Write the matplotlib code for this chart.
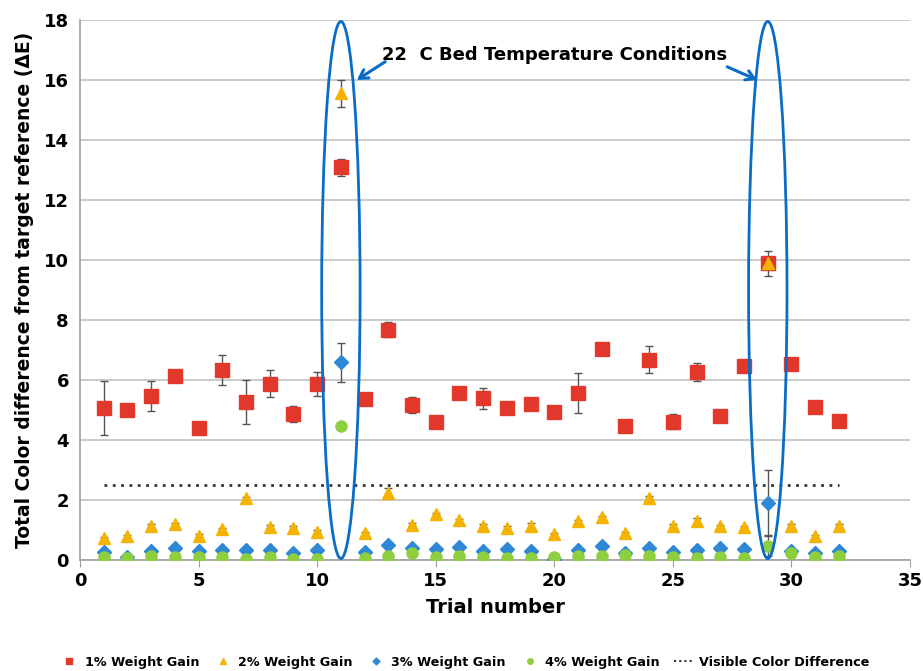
import matplotlib.pyplot as plt
from matplotlib.patches import Ellipse
from matplotlib.lines import Line2D

trials = list(range(1, 33))

# mean colour difference per trial for each weight gain level
gain_1 = [5.08, 5.0, 5.47, 6.13, 4.39, 6.33, 5.26, 5.87, 4.87, 5.86, 13.09, 5.36, 7.68,
          5.17, 4.61, 5.58, 5.39, 5.08, 5.19, 4.92, 5.56, 7.04, 4.47, 6.67, 4.61, 6.28,
          4.81, 6.48, 9.89, 6.53, 5.11, 4.64]
err_1 = [0.9, 0.1, 0.5, 0.1, 0.1, 0.5, 0.73, 0.45, 0.26, 0.4, 0.28, 0.1, 0.25, 0.27,
         0.1, 0.1, 0.34, 0.1, 0.1, 0.1, 0.67, 0.1, 0.1, 0.45, 0.25, 0.3, 0.2, 0.1,
         0.41, 0.1, 0.15, 0.1]

gain_2 = [0.72, 0.8, 1.14, 1.19, 0.81, 1.02, 2.06, 1.11, 1.08, 0.94, 15.55, 0.89, 2.24,
          1.17, 1.52, 1.33, 1.14, 1.08, 1.13, 0.86, 1.3, 1.42, 0.89, 2.08, 1.14, 1.3,
          1.13, 1.09, 9.9, 1.14, 0.8, 1.14]
err_2 = [0.05, 0.05, 0.05, 0.05, 0.05, 0.05, 0.05, 0.05, 0.05, 0.05, 0.45, 0.05, 0.15,
         0.05, 0.05, 0.05, 0.05, 0.05, 0.12, 0.05, 0.05, 0.05, 0.05, 0.05, 0.05, 0.1,
         0.05, 0.05, 0.1, 0.05, 0.05, 0.05]

gain_3 = [0.28, 0.1, 0.3, 0.41, 0.3, 0.35, 0.33, 0.33, 0.25, 0.35, 6.59, 0.28, 0.5,
          0.39, 0.36, 0.44, 0.31, 0.36, 0.31, 0.03, 0.33, 0.47, 0.22, 0.39, 0.28, 0.33,
          0.39, 0.36, 1.89, 0.3, 0.22, 0.31]
err_3 = [0.03] * 10 + [0.65] + [0.03] * 17 + [1.1] + [0.03] * 3

gain_4 = [0.09, 0.06, 0.13, 0.11, 0.09, 0.11, 0.02, 0.09, 0.04, 0.04, 4.48, 0.06, 0.14,
          0.24, 0.11, 0.14, 0.11, 0.08, 0.06, 0.11, 0.14, 0.14, 0.17, 0.13, 0.11, 0.08,
          0.11, 0.08, 0.47, 0.22, 0.09, 0.14]
err_4 = [0.03] * 10 + [0.1] + [0.03] * 17 + [0.35] + [0.03] * 3

visible_diff = 2.5
bed_trials = [11, 29]

series = [
    (gain_1, err_1, 's', 10, '#E2382B', '1% Weight Gain'),
    (gain_2, err_2, '^', 9, '#F5B301', '2% Weight Gain'),
    (gain_3, err_3, 'D', 7, '#2E88D6', '3% Weight Gain'),
    (gain_4, err_4, 'o', 8, '#8DCF3F', '4% Weight Gain'),
]

fig = plt.figure(figsize=(9.23, 6.71), dpi=100)
ax = fig.add_axes([0.0867, 0.1654, 0.8993, 0.8048])

handles = []
for z, (vals, errs, mk, size, col, name) in enumerate(series):
    ax.errorbar(trials, vals, yerr=errs, marker=mk, ms=size, color=col, ecolor='#555555',
                elinewidth=1, capsize=3, capthick=1, linestyle='none', zorder=3 + z)
    handles.append(Line2D([], [], marker=mk, ms=size * 0.5, color=col, linestyle='none',
                          label=name))

ax.plot([trials[0], trials[-1]], [visible_diff, visible_diff], linestyle=(0, (1, 2)),
        color='#333333', lw=2, zorder=2)
handles.append(Line2D([], [], linestyle=(0, (1, 1.5)), color='#333333', lw=1.5,
                      label='Visible Color Difference'))

# ellipses around the 22 C bed temperature trials
for t in bed_trials:
    ax.add_patch(Ellipse((t, 9.0), 1.62, 17.9, fill=False, edgecolor='#0A6CC4',
                         lw=2.0, zorder=7, clip_on=False))

ax.text(20.0, 16.83, '22  C Bed Temperature Conditions', ha='center', va='center',
        fontsize=13, fontweight='bold', zorder=8)
arrow_kw = dict(arrowstyle='->,head_length=0.6,head_width=0.35', color='#0A6CC4',
                lw=2.2, shrinkA=0, shrinkB=0)
ax.annotate('', xy=(11.67, 16.0), xytext=(12.87, 16.61), arrowprops=arrow_kw, zorder=8)
ax.annotate('', xy=(28.55, 16.0), xytext=(27.29, 16.44), arrowprops=arrow_kw, zorder=8)

ax.set_xlim(0, 35)
ax.set_ylim(0, 18)
ax.set_xticks(range(0, 36, 5))
ax.set_yticks(range(0, 19, 2))
ax.grid(axis='y', color='#bcbcbc', lw=1.1)
ax.set_axisbelow(True)
for side in ['top', 'right']:
    ax.spines[side].set_visible(False)
for side in ['left', 'bottom']:
    ax.spines[side].set_color('#a0a0a0')
    ax.spines[side].set_linewidth(1.2)
ax.tick_params(axis='x', direction='out', length=5, color='#a0a0a0', labelsize=13)
ax.tick_params(axis='y', length=0, labelsize=13, pad=8)
for lbl in ax.get_xticklabels() + ax.get_yticklabels():
    lbl.set_fontweight('bold')

ax.set_xlabel('Trial number', fontsize=14, fontweight='bold', labelpad=6)
ax.set_ylabel('Total Color difference from target reference (ΔE)', fontsize=13.5,
              fontweight='bold', labelpad=7)

fig.legend(handles=handles, loc='center', bbox_to_anchor=(0.503, 0.013), ncol=5,
           frameon=False, prop={'weight': 'bold', 'size': 9.2}, handlelength=1.5,
           columnspacing=1.1, handletextpad=0.45)

fig.savefig('out.png', dpi=100)
